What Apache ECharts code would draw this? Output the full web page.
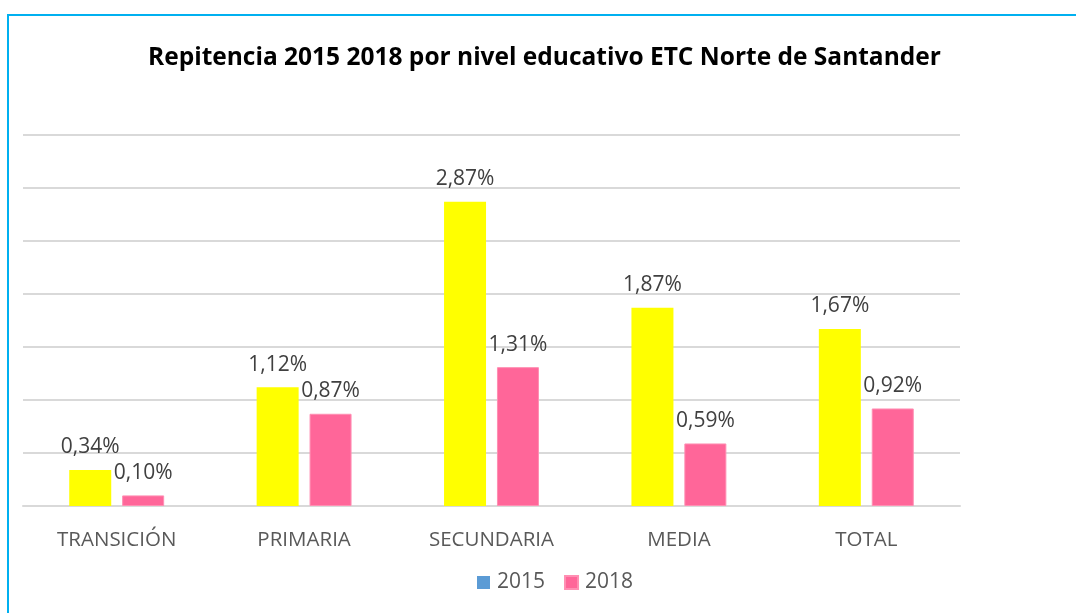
<!DOCTYPE html>
<html><head><meta charset="utf-8">
<script src="https://cdn.jsdelivr.net/npm/echarts@6/dist/echarts.min.js"></script>
<style>html,body{margin:0;padding:0;background:#fff}#c{width:1076px;height:613px;position:relative}
#b{position:absolute;left:7px;top:14px;width:1080px;height:620px;border-left:2px solid #00B0F0;border-top:2px solid #00B0F0;box-sizing:border-box;pointer-events:none}</style>
</head><body><div id="c"></div><div id="b"></div>
<script>
const titleText = 'Repitencia 2015 2018 por nivel educativo ETC Norte de Santander';
const categories = ['TRANSICIÓN', 'PRIMARIA', 'SECUNDARIA', 'MEDIA', 'TOTAL'];
const values2015 = [0.34, 1.12, 2.87, 1.87, 1.67];
const values2018 = [0.10, 0.87, 1.31, 0.59, 0.92];
const seriesNames = ['2015', '2018'];

const chart = echarts.init(document.getElementById('c'));
const fmt = p => p.value.toFixed(2).replace('.', ',') + '%';
const lbl = {show: true, position: 'top', distance: 12, formatter: fmt, color: '#404040', fontSize: 21, fontFamily: 'Open Sans'};
chart.setOption({
  title: {text: titleText, left: 143, top: 41, textStyle: {fontSize: 24.5, fontWeight: 'bold', color: '#000', fontFamily: 'Open Sans'}},
  legend: {bottom: 15, left: 472, icon: 'rect', itemWidth: 13, itemHeight: 13, itemGap: 19, textStyle: {fontSize: 21, color: '#595959', fontFamily: 'Open Sans', padding: [0, 0, 0, 2]}, data: seriesNames},
  grid: {left: 23, right: 116, top: 135, bottom: 107, containLabel: false},
  xAxis: {type: 'category', data: categories, axisLine: {lineStyle: {color: '#D9D9D9', width: 2}}, axisTick: {show: false},
    axisLabel: {fontSize: 20.5, color: '#595959', margin: 24, fontFamily: 'Open Sans'}},
  yAxis: {type: 'value', min: 0, max: 3.5, interval: 0.5, axisLabel: {show: false}, axisLine: {show: false}, axisTick: {show: false},
    splitLine: {lineStyle: {color: '#D9D9D9', width: 2}}},
  series: [
    {name: seriesNames[0], type: 'bar', barWidth: 42, barGap: '26%', itemStyle: {color: '#5B9BD5'},
      data: values2015.map(v => ({value: v, itemStyle: {color: '#FFFF00'}})), label: lbl},
    {name: seriesNames[1], type: 'bar', barWidth: 42, itemStyle: {color: '#FF6699', borderColor: '#FF8FB3', borderWidth: 1},
      data: values2018, label: lbl}
  ]
});
</script></body></html>
